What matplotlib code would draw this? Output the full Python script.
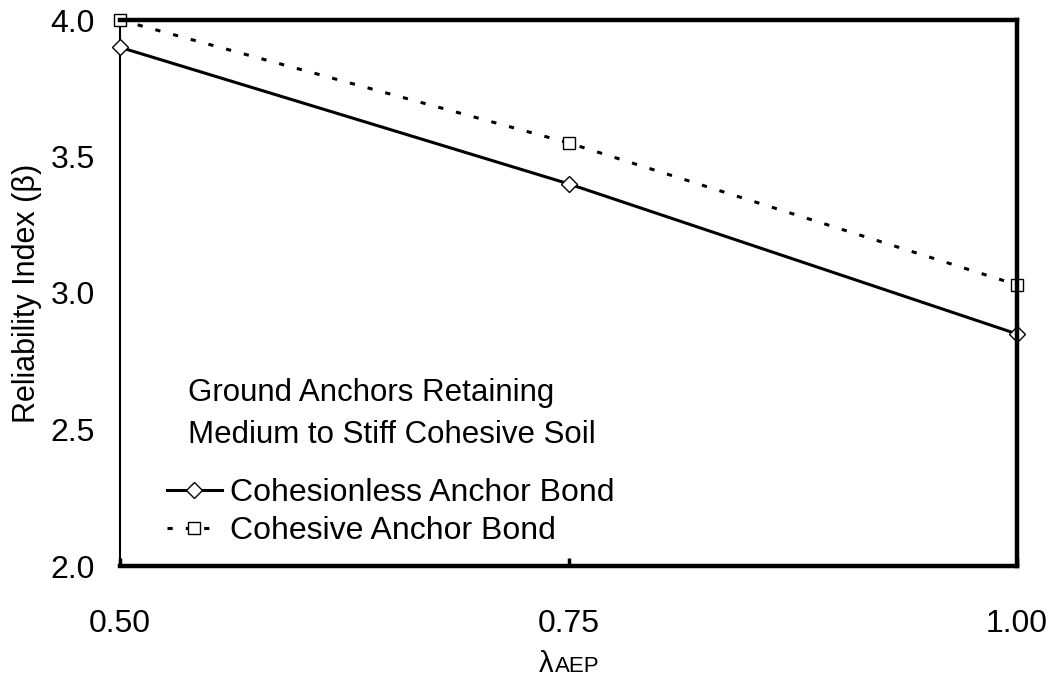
import numpy as np
from matplotlib import pyplot as plt

plt.rcParams['font.family'] = ['Liberation Sans', 'DejaVu Sans']

# data
lam = [0.50, 0.75, 1.00]
beta_cohesionless = [3.90, 3.40, 2.85]
beta_cohesive = [4.00, 3.55, 3.03]
xticks = [0.50, 0.75, 1.00]
xtick_labels = ["0.50", "0.75", "1.00"]
yticks = [2.0, 2.5, 3.0, 3.5, 4.0]
ytick_labels = ["2.0", "2.5", "3.0", "3.5", "4.0"]

fig = plt.figure(figsize=(10.52, 6.76), dpi=100)
ax = fig.add_axes([120/1052, 1 - 566/676, 897/1052, 546/676])

ax.plot(lam, beta_cohesionless, color="black", linewidth=2.2, marker="D",
        markersize=8, markerfacecolor="white", markeredgecolor="black",
        markeredgewidth=1.0, label="Cohesionless Anchor Bond", clip_on=False, zorder=3)
ax.plot(lam, beta_cohesive, color="black", linewidth=2.2, linestyle=(0, (1.7, 4.3)),
        marker="s", markersize=8.5, markerfacecolor="white", markeredgecolor="black",
        markeredgewidth=1.0, label="Cohesive Anchor Bond", clip_on=False, zorder=3)

ax.set_xlim(0.5, 1.0)
ax.set_ylim(2.0, 4.0)
ax.set_xticks(xticks)
ax.set_xticklabels(xtick_labels, fontsize=23)
ax.set_yticks(yticks)
ax.set_yticklabels(ytick_labels, fontsize=23)
ax.tick_params(axis="x", direction="in", length=6, width=2.5, pad=31)
ax.tick_params(axis="y", length=0, pad=18)

for side in ["top", "right", "bottom"]:
    ax.spines[side].set_linewidth(3.2)
    ax.spines[side].set_zorder(4)
ax.spines["left"].set_linewidth(1.5)

ax.set_ylabel("Reliability Index (β)", fontsize=22)
ax.yaxis.set_label_coords(-0.0864, 0.5)

# x label: lambda with smaller AEP on the same baseline
fig.text(539/1052, 1 - 672/676, "λ", fontsize=21, ha="left", va="baseline")
fig.text(555/1052, 1 - 672/676, "AEP", fontsize=16, ha="left", va="baseline")

ax.text(0.076, 0.317, "Ground Anchors Retaining", transform=ax.transAxes,
        fontsize=22.5, va="center", ha="left")
ax.text(0.076, 0.240, "Medium to Stiff Cohesive Soil", transform=ax.transAxes,
        fontsize=22.5, va="center", ha="left")

leg = ax.legend(loc="upper left", bbox_to_anchor=(0.0524, 0.161), frameon=False,
                fontsize=23, handlelength=1.72, handletextpad=0.25,
                borderpad=0, borderaxespad=0, labelspacing=0.26)

fig.savefig("out.png", dpi=100)
